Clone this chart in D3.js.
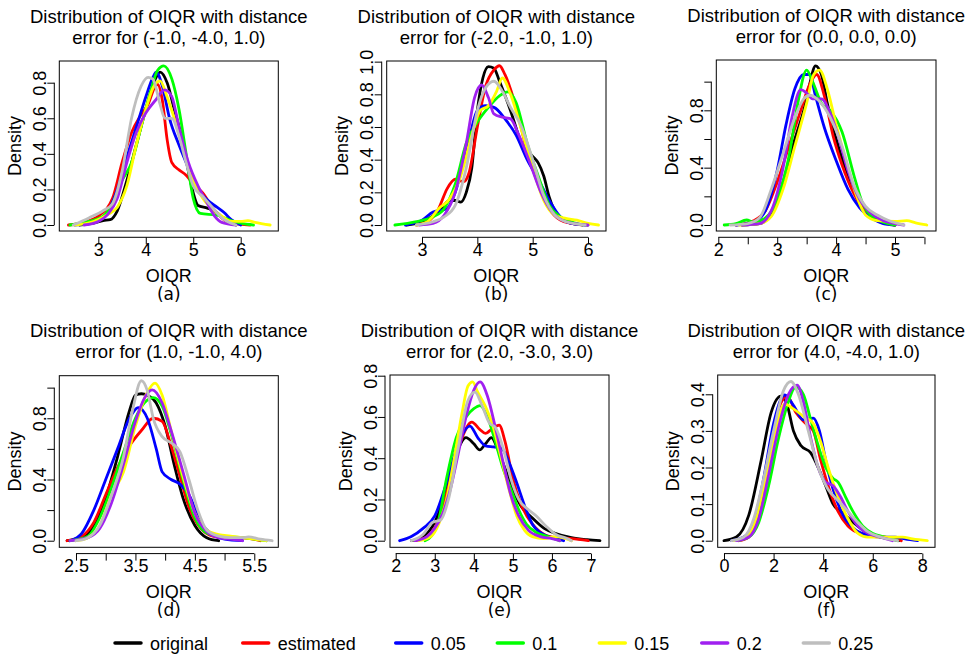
<!DOCTYPE html>
<html>
<head>
<meta charset="utf-8">
<script src="https://cdn.jsdelivr.net/npm/d3@7"></script>
<style>
  html, body { margin: 0; padding: 0; background: #fff; }
  svg text { font-family: "Liberation Sans", Arial, sans-serif; fill: #000; }
</style>
</head>
<body>
<svg id="chart" width="977" height="658"></svg>
<script>
// ---------------- DATA ----------------
const seriesNames = ["original", "estimated", "0.05", "0.1", "0.15", "0.2", "0.25"];
const seriesColors = ["#000000", "#FF0000", "#0000FF", "#00FF00", "#FFFF00", "#A020F0", "#BEBEBE"];

const panelTitles = [
  "error for (-1.0, -4.0, 1.0)",
  "error for (-2.0, -1.0, 1.0)",
  "error for (0.0, 0.0, 0.0)",
  "error for (1.0, -1.0, 4.0)",
  "error for (2.0, -3.0, 3.0)",
  "error for (4.0, -4.0, 1.0)"
];
const titleLine1 = "Distribution of OIQR with distance";
const captions = ["(a)", "(b)", "(c)", "(d)", "(e)", "(f)"];

// tick values and labels per panel
const xTicksA = [3, 4, 5, 6], xLabelsA = ["3", "4", "5", "6"];
const yTicksA = [0, 0.2, 0.4, 0.6, 0.8], yLabelsA = ["0.0", "0.2", "0.4", "0.6", "0.8"];
const xTicksB = [3, 4, 5, 6], xLabelsB = ["3", "4", "5", "6"];
const yTicksB = [0, 0.2, 0.4, 0.6, 0.8, 1.0], yLabelsB = ["0.0", "0.2", "0.4", "0.6", "0.8", "1.0"];
const xTicksC = [2, 2.5, 3, 3.5, 4, 4.5, 5, 5.5], xLabelsC = ["2", "", "3", "", "4", "", "5", ""];
const yTicksC = [0, 0.2, 0.4, 0.6, 0.8, 1.0], yLabelsC = ["0.0", "", "0.4", "", "0.8", ""];
const xTicksD = [2.5, 3, 3.5, 4, 4.5, 5, 5.5], xLabelsD = ["2.5", "", "3.5", "", "4.5", "", "5.5"];
const yTicksD = [0, 0.2, 0.4, 0.6, 0.8, 1.0], yLabelsD = ["0.0", "", "0.4", "", "0.8", ""];
const xTicksE = [2, 3, 4, 5, 6, 7], xLabelsE = ["2", "3", "4", "5", "6", "7"];
const yTicksE = [0, 0.2, 0.4, 0.6, 0.8], yLabelsE = ["0.0", "0.2", "0.4", "0.6", "0.8"];
const xTicksF = [0, 2, 4, 6, 8], xLabelsF = ["0", "2", "4", "6", "8"];
const yTicksF = [0, 0.1, 0.2, 0.3, 0.4], yLabelsF = ["0.0", "0.1", "0.2", "0.3", "0.4"];

// density curves: [x, density] pairs, one list per series (order = seriesNames)
const densityA = [
  [[2.6,0],[2.9,0.01],[3.1,0.025],[3.25,0.03],[3.4,0.08],[3.6,0.25],[3.8,0.45],[4.0,0.65],[4.2,0.82],[4.3,0.86],[4.45,0.8],[4.6,0.65],[4.75,0.5],[4.9,0.3],[5.0,0.18],[5.1,0.11],[5.3,0.095],[5.5,0.07],[5.7,0.02],[5.9,0]],
  [[2.37,0],[2.7,0.015],[3.0,0.05],[3.3,0.15],[3.5,0.35],[3.7,0.52],[3.9,0.62],[4.05,0.68],[4.2,0.78],[4.25,0.79],[4.35,0.7],[4.45,0.48],[4.55,0.35],[4.7,0.31],[4.85,0.28],[5.0,0.23],[5.2,0.18],[5.4,0.1],[5.6,0.04],[5.8,0.01],[6.2,0]],
  [[2.5,0],[2.8,0.01],[3.1,0.04],[3.4,0.2],[3.6,0.38],[3.8,0.55],[4.0,0.72],[4.15,0.83],[4.22,0.86],[4.35,0.78],[4.5,0.6],[4.7,0.45],[4.9,0.32],[5.1,0.2],[5.3,0.14],[5.5,0.1],[5.65,0.07],[5.8,0.03],[6.0,0]],
  [[2.4,0],[2.8,0.02],[3.1,0.05],[3.3,0.12],[3.5,0.25],[3.7,0.35],[3.9,0.55],[4.1,0.75],[4.25,0.87],[4.38,0.895],[4.55,0.82],[4.7,0.65],[4.85,0.4],[5.0,0.15],[5.15,0.065],[5.5,0.055],[5.75,0.03],[6.0,0.01],[6.27,0]],
  [[2.5,0],[2.9,0.02],[3.2,0.06],[3.4,0.1],[3.6,0.22],[3.8,0.45],[4.0,0.65],[4.15,0.77],[4.3,0.81],[4.45,0.72],[4.6,0.6],[4.8,0.42],[5.0,0.25],[5.2,0.15],[5.4,0.09],[5.6,0.05],[5.8,0.02],[6.0,0.02],[6.15,0.025],[6.3,0.015],[6.62,0]],
  [[2.7,0],[3.0,0.02],[3.2,0.06],[3.4,0.15],[3.6,0.35],[3.8,0.52],[4.0,0.63],[4.2,0.7],[4.4,0.76],[4.55,0.72],[4.7,0.55],[4.9,0.35],[5.1,0.22],[5.3,0.12],[5.45,0.05],[5.6,0.015],[5.9,0]],
  [[2.47,0],[2.8,0.04],[3.1,0.08],[3.3,0.12],[3.5,0.3],[3.7,0.6],[3.9,0.78],[4.05,0.83],[4.15,0.82],[4.3,0.68],[4.4,0.6],[4.55,0.6],[4.7,0.5],[4.85,0.35],[5.0,0.22],[5.2,0.16],[5.4,0.1],[5.6,0.04],[5.8,0.01],[5.9,0]]
];
const densityB = [
  [[2.72,0],[3.0,0.02],[3.3,0.08],[3.5,0.15],[3.6,0.15],[3.7,0.14],[3.8,0.2],[3.9,0.35],[4.0,0.7],[4.1,0.9],[4.2,0.97],[4.3,0.96],[4.4,0.88],[4.6,0.7],[4.8,0.5],[5.0,0.42],[5.1,0.38],[5.2,0.3],[5.3,0.17],[5.45,0.06],[5.7,0.01],[6.0,0]],
  [[2.9,0],[3.1,0.02],[3.3,0.1],[3.45,0.22],[3.6,0.28],[3.75,0.265],[3.85,0.32],[4.0,0.6],[4.15,0.85],[4.3,0.95],[4.4,0.975],[4.5,0.92],[4.7,0.72],[4.9,0.45],[5.1,0.25],[5.3,0.1],[5.5,0.03],[5.7,0.01],[5.9,0]],
  [[2.7,0],[3.0,0.03],[3.2,0.08],[3.45,0.1],[3.6,0.2],[3.8,0.45],[4.0,0.7],[4.15,0.73],[4.3,0.72],[4.5,0.65],[4.7,0.55],[4.9,0.4],[5.1,0.28],[5.3,0.15],[5.5,0.05],[5.7,0.01],[5.95,0]],
  [[2.51,0],[2.9,0.02],[3.2,0.05],[3.4,0.1],[3.6,0.25],[3.8,0.5],[4.0,0.63],[4.2,0.72],[4.4,0.79],[4.55,0.815],[4.7,0.75],[4.9,0.5],[5.1,0.3],[5.3,0.12],[5.5,0.05],[5.7,0.02],[5.9,0]],
  [[2.9,0],[3.1,0.02],[3.3,0.1],[3.5,0.16],[3.7,0.3],[3.9,0.55],[4.05,0.7],[4.2,0.73],[4.35,0.82],[4.45,0.9],[4.6,0.8],[4.8,0.58],[5.0,0.35],[5.2,0.15],[5.4,0.06],[5.6,0.04],[5.8,0.03],[6.0,0.01],[6.19,0]],
  [[2.95,0],[3.2,0.01],[3.4,0.06],[3.6,0.2],[3.8,0.5],[3.95,0.78],[4.08,0.857],[4.2,0.78],[4.3,0.68],[4.45,0.66],[4.6,0.65],[4.75,0.55],[4.95,0.38],[5.15,0.2],[5.35,0.08],[5.6,0.02],[6.0,0]],
  [[2.9,0],[3.2,0.02],[3.4,0.05],[3.6,0.12],[3.8,0.35],[4.0,0.7],[4.15,0.84],[4.3,0.88],[4.45,0.82],[4.6,0.72],[4.8,0.6],[5.0,0.4],[5.2,0.18],[5.4,0.06],[5.6,0.02],[5.95,0]]
];
const densityC = [
  [[2.4,0],[2.7,0.01],[2.9,0.08],[3.1,0.3],[3.3,0.6],[3.45,0.8],[3.55,0.98],[3.65,1.11],[3.75,1.05],[3.85,0.85],[4.0,0.6],[4.2,0.35],[4.4,0.15],[4.6,0.06],[4.8,0.02],[5.0,0]],
  [[2.3,0],[2.6,0.03],[2.8,0.1],[3.0,0.3],[3.2,0.55],[3.4,0.8],[3.55,0.98],[3.67,1.05],[3.8,0.9],[3.95,0.62],[4.1,0.42],[4.3,0.22],[4.5,0.09],[4.7,0.03],[4.9,0.005],[5.0,0]],
  [[2.3,0],[2.6,0.02],[2.8,0.1],[3.0,0.38],[3.15,0.7],[3.3,0.95],[3.45,1.05],[3.55,1.05],[3.65,0.9],[3.8,0.68],[4.0,0.45],[4.2,0.25],[4.4,0.12],[4.6,0.05],[4.8,0.01],[5.0,0]],
  [[2.1,0],[2.3,0.01],[2.48,0.035],[2.6,0.02],[2.8,0.05],[3.0,0.18],[3.2,0.48],[3.35,0.85],[3.5,1.08],[3.6,1.0],[3.75,0.85],[3.9,0.8],[4.1,0.65],[4.3,0.35],[4.45,0.15],[4.6,0.06],[4.8,0.02],[5.0,0]],
  [[2.35,0],[2.7,0.01],[2.9,0.06],[3.1,0.25],[3.3,0.55],[3.5,0.85],[3.62,1.05],[3.72,1.08],[3.85,0.95],[4.0,0.7],[4.2,0.4],[4.35,0.2],[4.5,0.07],[4.7,0.03],[5.0,0.025],[5.2,0.03],[5.35,0.015],[5.54,0]],
  [[2.4,0],[2.7,0.01],[2.9,0.1],[3.1,0.4],[3.25,0.75],[3.4,0.945],[3.5,0.92],[3.6,0.88],[3.75,0.88],[3.9,0.78],[4.05,0.6],[4.2,0.38],[4.4,0.18],[4.6,0.08],[4.8,0.03],[5.0,0.01],[5.15,0]],
  [[2.2,0],[2.5,0.01],[2.7,0.05],[2.9,0.25],[3.1,0.5],[3.3,0.75],[3.45,0.88],[3.55,0.905],[3.7,0.87],[3.9,0.75],[4.1,0.55],[4.3,0.28],[4.5,0.13],[4.7,0.07],[4.9,0.03],[5.15,0]]
];
const densityD = [
  [[2.35,0],[2.6,0.02],[2.8,0.1],[3.0,0.28],[3.2,0.55],[3.4,0.85],[3.5,0.95],[3.6,0.96],[3.7,0.95],[3.85,0.9],[4.0,0.75],[4.15,0.5],[4.3,0.28],[4.5,0.1],[4.7,0.02],[4.9,0]],
  [[2.35,0],[2.6,0.03],[2.8,0.12],[3.0,0.3],[3.2,0.48],[3.4,0.62],[3.6,0.72],[3.8,0.8],[3.95,0.78],[4.1,0.62],[4.25,0.42],[4.4,0.22],[4.6,0.08],[4.8,0.03],[5.0,0.02],[5.2,0.02],[5.4,0.015],[5.6,0]],
  [[2.4,0],[2.6,0.05],[2.8,0.2],[3.0,0.4],[3.2,0.6],[3.4,0.8],[3.55,0.87],[3.7,0.8],[3.85,0.6],[3.95,0.45],[4.1,0.4],[4.25,0.37],[4.4,0.3],[4.6,0.12],[4.8,0.04],[5.0,0.01],[5.3,0]],
  [[2.4,0],[2.7,0.03],[2.9,0.15],[3.1,0.35],[3.3,0.58],[3.5,0.8],[3.65,0.9],[3.8,0.935],[3.95,0.88],[4.1,0.7],[4.3,0.4],[4.5,0.15],[4.7,0.05],[4.9,0.03],[5.1,0.025],[5.3,0.02],[5.5,0.01],[5.7,0]],
  [[2.5,0],[2.7,0.02],[2.9,0.1],[3.1,0.3],[3.3,0.45],[3.5,0.75],[3.7,0.97],[3.83,1.03],[3.95,0.95],[4.1,0.72],[4.3,0.42],[4.5,0.18],[4.7,0.07],[4.9,0.04],[5.1,0.03],[5.3,0.02],[5.5,0.01],[5.7,0]],
  [[2.4,0],[2.7,0.02],[2.9,0.08],[3.1,0.25],[3.3,0.5],[3.5,0.78],[3.65,0.93],[3.78,0.985],[3.95,0.9],[4.1,0.72],[4.3,0.45],[4.5,0.18],[4.7,0.06],[4.9,0.02],[5.1,0.01],[5.3,0]],
  [[2.5,0],[2.7,0.02],[2.9,0.1],[3.1,0.3],[3.3,0.55],[3.45,0.85],[3.6,1.045],[3.7,0.98],[3.8,0.8],[3.95,0.68],[4.1,0.64],[4.25,0.58],[4.4,0.4],[4.55,0.2],[4.7,0.07],[4.9,0.03],[5.1,0.02],[5.3,0.02],[5.4,0.025],[5.6,0.01],[5.8,0]]
];
const densityE = [
  [[2.4,0],[2.7,0.02],[3.0,0.09],[3.3,0.25],[3.55,0.42],[3.8,0.5],[4.0,0.47],[4.15,0.44],[4.3,0.47],[4.45,0.5],[4.6,0.45],[4.8,0.35],[5.0,0.25],[5.2,0.17],[5.5,0.11],[5.8,0.06],[6.1,0.035],[6.5,0.015],[6.9,0.005],[7.23,0]],
  [[2.5,0],[2.8,0.02],[3.1,0.1],[3.4,0.3],[3.7,0.5],[3.95,0.575],[4.15,0.54],[4.3,0.52],[4.45,0.54],[4.65,0.56],[4.8,0.48],[5.0,0.3],[5.2,0.18],[5.5,0.08],[5.8,0.03],[6.1,0.015],[6.5,0.01],[6.93,0]],
  [[2.1,0],[2.4,0.02],[2.7,0.06],[3.0,0.12],[3.3,0.28],[3.6,0.47],[3.9,0.556],[4.1,0.5],[4.3,0.46],[4.5,0.455],[4.7,0.45],[4.9,0.38],[5.1,0.28],[5.3,0.17],[5.5,0.08],[5.7,0.04],[5.9,0.02],[6.1,0.01],[6.3,0]],
  [[2.75,0],[2.9,0.02],[3.1,0.1],[3.3,0.3],[3.55,0.5],[3.8,0.6],[4.0,0.64],[4.16,0.655],[4.35,0.6],[4.55,0.48],[4.75,0.35],[4.95,0.25],[5.15,0.15],[5.35,0.08],[5.6,0.04],[5.9,0.02],[6.2,0]],
  [[2.6,0],[2.9,0.02],[3.1,0.08],[3.3,0.2],[3.5,0.4],[3.7,0.62],[3.85,0.75],[3.97,0.77],[4.1,0.72],[4.3,0.65],[4.5,0.55],[4.7,0.4],[4.9,0.25],[5.1,0.12],[5.3,0.05],[5.5,0.02],[5.8,0.01],[6.1,0.02],[6.5,0]],
  [[2.5,0],[2.8,0.02],[3.0,0.06],[3.2,0.13],[3.4,0.25],[3.6,0.42],[3.8,0.6],[4.0,0.73],[4.16,0.77],[4.35,0.7],[4.55,0.55],[4.75,0.38],[4.95,0.22],[5.15,0.12],[5.4,0.05],[5.7,0.02],[6.0,0.01],[6.2,0]],
  [[2.4,0],[2.7,0.03],[2.95,0.09],[3.15,0.1],[3.35,0.2],[3.6,0.45],[3.85,0.68],[4.03,0.72],[4.2,0.66],[4.4,0.57],[4.55,0.55],[4.75,0.45],[4.95,0.3],[5.15,0.2],[5.4,0.15],[5.6,0.12],[5.85,0.07],[6.1,0.03],[6.4,0.01],[6.5,0]]
];
const densityF = [
  [[0,0],[0.5,0.01],[1.0,0.07],[1.5,0.22],[1.9,0.35],[2.3,0.395],[2.55,0.37],[2.8,0.3],[3.1,0.26],[3.5,0.24],[3.8,0.2],[4.1,0.15],[4.4,0.1],[4.8,0.075],[5.3,0.045],[5.8,0.02],[6.3,0.01],[6.7,0.005],[7.05,0]],
  [[0.6,0],[1.0,0.01],[1.3,0.05],[1.6,0.15],[1.9,0.27],[2.2,0.36],[2.55,0.395],[2.9,0.35],[3.3,0.32],[3.6,0.3],[3.9,0.22],[4.2,0.15],[4.6,0.08],[5.0,0.04],[5.5,0.02],[6.0,0.015],[6.5,0.01],[7.0,0.005],[7.15,0]],
  [[0.3,0],[0.8,0.01],[1.2,0.05],[1.6,0.17],[2.0,0.32],[2.45,0.398],[2.8,0.37],[3.2,0.33],[3.6,0.335],[3.85,0.3],[4.1,0.22],[4.4,0.14],[4.8,0.07],[5.3,0.03],[5.8,0.015],[6.3,0.01],[6.9,0.01],[7.3,0.005],[7.8,0]],
  [[0.5,0],[1.0,0.01],[1.4,0.05],[1.8,0.15],[2.2,0.28],[2.55,0.37],[2.9,0.42],[3.2,0.4],[3.5,0.33],[3.8,0.26],[4.1,0.2],[4.4,0.17],[4.6,0.16],[4.9,0.12],[5.2,0.08],[5.6,0.04],[6.0,0.02],[6.5,0.01],[7.0,0]],
  [[0.4,0],[0.9,0.01],[1.3,0.06],[1.7,0.18],[2.1,0.31],[2.45,0.373],[2.8,0.36],[3.2,0.34],[3.6,0.32],[3.9,0.27],[4.2,0.2],[4.6,0.12],[5.0,0.06],[5.4,0.02],[5.8,0.01],[6.3,0.01],[6.8,0.01],[7.2,0.01],[7.6,0.005],[8.2,0]],
  [[0.5,0],[1.0,0.01],[1.4,0.06],[1.8,0.18],[2.2,0.31],[2.6,0.4],[2.95,0.425],[3.2,0.38],[3.5,0.28],[3.8,0.2],[4.1,0.16],[4.4,0.15],[4.7,0.12],[5.0,0.08],[5.4,0.04],[5.8,0.02],[6.3,0.01],[6.8,0]],
  [[0.3,0],[0.8,0.01],[1.2,0.06],[1.6,0.17],[2.0,0.3],[2.4,0.41],[2.7,0.435],[3.0,0.4],[3.4,0.3],[3.8,0.2],[4.2,0.14],[4.6,0.11],[5.0,0.08],[5.4,0.05],[5.8,0.025],[6.3,0.01],[7.0,0]]
];

// ---------------- LAYOUT ----------------
const panels = [
  { box: [59.3, 278.3, 61, 231],   xDom: [2.178, 6.792], yDom: [-0.0337, 0.922], xT: xTicksA, xL: xLabelsA, yT: yTicksA, yL: yLabelsA, data: densityA },
  { box: [386.7, 606, 61, 231],    xDom: [2.362, 6.325], yDom: [-0.0367, 1.004], xT: xTicksB, xL: xLabelsB, yT: yTicksB, yL: yLabelsB, data: densityB },
  { box: [716.3, 936, 60, 231],    xDom: [1.966, 5.696], yDom: [-0.0418, 1.151], xT: xTicksC, xL: xLabelsC, yT: yTicksC, yL: yLabelsC, data: densityC },
  { box: [59.3, 278.3, 375.7, 547.3], xDom: [2.219, 5.904], yDom: [-0.043, 1.078], xT: xTicksD, xL: xLabelsD, yT: yTicksD, yL: yLabelsD, data: densityD },
  { box: [390, 609, 375, 547.3],   xDom: [1.854, 7.461], yDom: [-0.032, 0.8034], xT: xTicksE, xL: xLabelsE, yT: yTicksE, yL: yLabelsE, data: densityE },
  { box: [717.7, 935, 375, 547.3], xDom: [-0.254, 8.51], yDom: [-0.018, 0.4527], xT: xTicksF, xL: xLabelsF, yT: yTicksF, yL: yLabelsF, data: densityF }
];

const svg = d3.select("#chart");
svg.append("rect").attr("width", 977).attr("height", 658).attr("fill", "#fff");

panels.forEach((p, i) => {
  const [L, R, T, B] = p.box;
  const x = d3.scaleLinear().domain(p.xDom).range([L, R]);
  const y = d3.scaleLinear().domain(p.yDom).range([B, T]);
  const g = svg.append("g");
  const cx = (L + R) / 2, cy = (T + B) / 2;

  // titles
  g.append("text").attr("x", cx).attr("y", T - 38.5).attr("text-anchor", "middle")
    .style("font-size", "18.5px").text(titleLine1);
  g.append("text").attr("x", cx).attr("y", T - 17.3).attr("text-anchor", "middle")
    .style("font-size", "18.5px").text(panelTitles[i]);

  // x axis (R style, offset below box)
  const xAxis = d3.axisBottom(x).tickValues(p.xT).tickSize(7).tickSizeOuter(0)
    .tickFormat((d, k) => p.xL[k]);
  const xa = g.append("g").attr("transform", `translate(0,${B + 6.3})`).call(xAxis);
  xa.select(".domain").attr("d", `M${x(p.xT[0])},0H${x(p.xT[p.xT.length - 1])}`).attr("stroke", "#000");
  xa.selectAll(".tick line").attr("stroke", "#000");
  xa.selectAll(".tick text").attr("y", 0).attr("dy", null).attr("transform", "translate(0,18.7)")
    .style("font-size", "18px").style("font-family", "Liberation Sans, Arial, sans-serif").attr("fill", "#000");

  // y axis
  const yAxis = d3.axisLeft(y).tickValues(p.yT).tickSize(7).tickSizeOuter(0)
    .tickFormat((d, k) => p.yL[k]);
  const ya = g.append("g").attr("transform", `translate(${L - 5},0)`).call(yAxis);
  ya.select(".domain").attr("d", `M0,${y(p.yT[0])}V${y(p.yT[p.yT.length - 1])}`).attr("stroke", "#000");
  ya.selectAll(".tick line").attr("stroke", "#000");
  ya.selectAll(".tick text").attr("x", 0).attr("dy", null).attr("text-anchor", "middle")
    .attr("transform", "translate(-8.5,0) rotate(-90)")
    .style("font-size", "18px").style("font-family", "Liberation Sans, Arial, sans-serif").attr("fill", "#000");

  // axis titles
  g.append("text").attr("x", cx).attr("y", B + 50.5).attr("text-anchor", "middle")
    .style("font-size", "18px").text("OIQR");
  g.append("text").attr("transform", `translate(${L - 38.3},${cy}) rotate(-90)`)
    .attr("text-anchor", "middle").style("font-size", "18px").text("Density");
  g.append("text").attr("x", cx).attr("y", B + 69).attr("text-anchor", "middle")
    .style("font-size", "17px").style("font-family", "DejaVu Sans, sans-serif").text(captions[i]);

  // curves
  const line = d3.line().x(d => x(d[0])).y(d => y(d[1])).curve(d3.curveMonotoneX);
  p.data.forEach((s, k) => {
    g.append("path").datum(s).attr("d", line).attr("fill", "none")
      .attr("stroke", seriesColors[k]).attr("stroke-width", 2.8)
      .attr("stroke-linejoin", "round").attr("stroke-linecap", "round");
  });

  // box
  g.append("rect").attr("x", L).attr("y", T).attr("width", R - L).attr("height", B - T)
    .attr("fill", "none").attr("stroke", "#000").attr("stroke-width", 1);
});

// ---------------- LEGEND ----------------
const legendX = [115, 242.7, 395.7, 497.3, 599.3, 701.7, 803.3];
const legendY = 643;
const lg = svg.append("g");
seriesNames.forEach((name, k) => {
  lg.append("line").attr("x1", legendX[k]).attr("x2", legendX[k] + 26)
    .attr("y1", legendY).attr("y2", legendY)
    .attr("stroke", seriesColors[k]).attr("stroke-width", 3.5).attr("stroke-linecap", "round");
  lg.append("text").attr("x", legendX[k] + 35).attr("y", legendY + 6.5)
    .style("font-size", "18px").text(name);
});
</script>
</body>
</html>
